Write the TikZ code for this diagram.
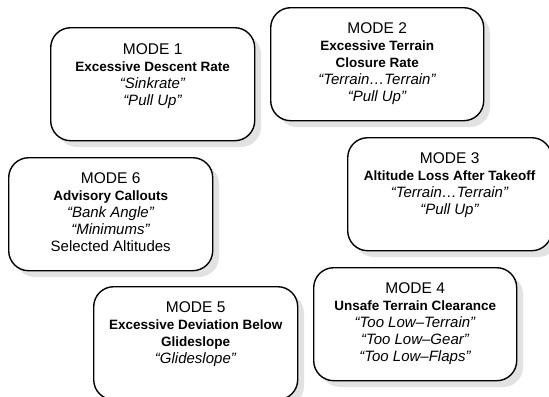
\documentclass[tikz,border=0pt]{standalone}
\usepackage{fontspec}
\setmainfont{Liberation Sans}
\definecolor{shadowgray}{HTML}{E2E2E2}
\newcommand{\modehead}[1]{{\fontsize{15.5bp}{17bp}\selectfont MODE #1}}
\newcommand{\modetitle}[1]{{\fontsize{13.5bp}{17bp}\selectfont\bfseries #1}}
\begin{document}
\begin{tikzpicture}
[x=1bp,y=-1bp,
  modebox/.style={draw,line width=1.4bp,rounded corners=20bp,anchor=north west,
    minimum height=113bp,fill=white},
  modeshadow/.style={fill=shadowgray,rounded corners=20bp},
  modetext/.style={anchor=north,align=center,inner sep=0pt,
    font=\fontsize{15bp}{17bp}\selectfont}]
\useasboundingbox (0,0) rectangle (549,396);
%% boxes with their shadows
\foreach \nodename/\x/\y/\w in {m1/50/27/204, m2/270/7/213, m3/347/137/204,
  m4/313/267/203, m5/93/286/204, m6/8/157/204} {
  \fill[modeshadow] (\x+7,\y+7) rectangle ++(\w,113);
  \node (\nodename) at (\x,\y) [modebox,minimum width=\w bp] {};
}
%% texts
\node (m1t) [modetext] at ([yshift=-16bp]m1.north) {\modehead{1}\\
  \modetitle{Excessive Descent Rate}\\ \textit{“Sinkrate”}\\ \textit{“Pull Up”}};
\node (m2t) [modetext] at ([yshift=-15bp]m2.north) {\modehead{2}\\
  \modetitle{Excessive Terrain}\\ \modetitle{Closure Rate}\\
  \textit{“Terrain…Terrain”}\\ \textit{“Pull Up”}};
\node (m3t) [modetext] at ([yshift=-15bp]m3.north) {\modehead{3}\\
  \modetitle{Altitude Loss After Takeoff}\\ \textit{“Terrain…Terrain”}\\
  \textit{“Pull Up”}};
\node (m4t) [modetext] at ([yshift=-15bp]m4.north) {\modehead{4}\\
  \modetitle{Unsafe Terrain Clearance}\\ \textit{“Too Low–Terrain”}\\
  \textit{“Too Low–Gear”}\\ \textit{“Too Low–Flaps”}};
\node (m5t) [modetext] at ([yshift=-15bp]m5.north) {\modehead{5}\\
  \modetitle{Excessive Deviation Below}\\ \modetitle{Glideslope}\\
  \textit{“Glideslope”}};
\node (m6t) [modetext] at ([yshift=-15bp]m6.north) {\modehead{6}\\
  \modetitle{Advisory Callouts}\\ \textit{“Bank Angle”}\\ \textit{“Minimums”}\\
  Selected Altitudes};
\end{tikzpicture}
\end{document}
